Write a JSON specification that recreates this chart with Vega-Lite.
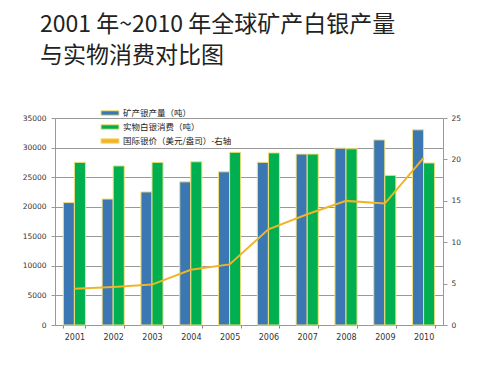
{
  "$schema": "https://vega.github.io/schema/vega-lite/v6.json",
  "width": 388,
  "height": 207,
  "autosize": {"type": "none"},
  "padding": {"left": 55, "top": 118, "right": 57, "bottom": 49},
  "background": "white",
  "title": {
    "text": ["2001 年~2010 年全球矿产白银产量", "与实物消费对比图"],
    "anchor": "start",
    "frame": "group",
    "dx": -15,
    "offset": 40,
    "font": "Noto Sans CJK SC",
    "fontSize": 23,
    "fontWeight": "normal",
    "color": "#222222",
    "lineHeight": 31
  },
  "datasets": {
    "bars": [
      {"year": "2001", "series": "矿产银产量（吨）", "value": 20700},
      {"year": "2002", "series": "矿产银产量（吨）", "value": 21300},
      {"year": "2003", "series": "矿产银产量（吨）", "value": 22500},
      {"year": "2004", "series": "矿产银产量（吨）", "value": 24200},
      {"year": "2005", "series": "矿产银产量（吨）", "value": 25900},
      {"year": "2006", "series": "矿产银产量（吨）", "value": 27500},
      {"year": "2007", "series": "矿产银产量（吨）", "value": 28900},
      {"year": "2008", "series": "矿产银产量（吨）", "value": 29900},
      {"year": "2009", "series": "矿产银产量（吨）", "value": 31300},
      {"year": "2010", "series": "矿产银产量（吨）", "value": 33000},
      {"year": "2001", "series": "实物白银消费（吨）", "value": 27500},
      {"year": "2002", "series": "实物白银消费（吨）", "value": 26900},
      {"year": "2003", "series": "实物白银消费（吨）", "value": 27500},
      {"year": "2004", "series": "实物白银消费（吨）", "value": 27600},
      {"year": "2005", "series": "实物白银消费（吨）", "value": 29200},
      {"year": "2006", "series": "实物白银消费（吨）", "value": 29100},
      {"year": "2007", "series": "实物白银消费（吨）", "value": 28900},
      {"year": "2008", "series": "实物白银消费（吨）", "value": 29800},
      {"year": "2009", "series": "实物白银消费（吨）", "value": 25300},
      {"year": "2010", "series": "实物白银消费（吨）", "value": 27400}
    ],
    "price": [
      {"year": "2001", "price": 4.37},
      {"year": "2002", "price": 4.6},
      {"year": "2003", "price": 4.88},
      {"year": "2004", "price": 6.67},
      {"year": "2005", "price": 7.32},
      {"year": "2006", "price": 11.55},
      {"year": "2007", "price": 13.38},
      {"year": "2008", "price": 14.99},
      {"year": "2009", "price": 14.67},
      {"year": "2010", "price": 20.19}
    ]
  },
  "layer": [
    {
      "data": {"name": "bars"},
      "mark": {"type": "bar", "stroke": "#f3df7a", "strokeWidth": 1},
      "encoding": {
        "x": {
          "field": "year",
          "type": "nominal",
          "scale": {"paddingInner": 0.43, "paddingOuter": 0.215},
          "axis": {
            "title": null,
            "labelAngle": 0,
            "labelFont": "DejaVu Sans",
            "labelFontSize": 8,
            "labelColor": "#333333",
            "labelPadding": 5,
            "tickBand": "extent",
            "tickSize": 3,
            "tickColor": "#888888",
            "domainColor": "#999999",
            "grid": false
          }
        },
        "xOffset": {
          "field": "series",
          "type": "nominal",
          "sort": ["矿产银产量（吨）", "实物白银消费（吨）"],
          "scale": {"paddingInner": 0, "paddingOuter": 0}
        },
        "y": {
          "field": "value",
          "type": "quantitative",
          "scale": {"domain": [0, 35000], "nice": false},
          "axis": {
            "title": null,
            "values": [0, 5000, 10000, 15000, 20000, 25000, 30000, 35000],
            "format": "d",
            "labelFont": "DejaVu Sans",
            "labelFontSize": 7.5,
            "labelColor": "#333333",
            "labelPadding": 5,
            "tickSize": 4,
            "tickColor": "#999999",
            "domainColor": "#999999",
            "grid": true,
            "gridColor": "#999999",
            "gridWidth": 1
          }
        },
        "color": {
          "field": "series",
          "type": "nominal",
          "scale": {
            "domain": ["矿产银产量（吨）", "实物白银消费（吨）", "国际银价（美元/盎司）-右轴"],
            "range": ["#3b78b3", "#00b050", "#f0b428"]
          },
          "legend": {
            "title": null,
            "orient": "none",
            "legendX": 50,
            "legendY": -10,
            "direction": "vertical",
            "padding": 0,
            "symbolType": "M-2,-0.5L2,-0.5L2,0.5L-2,0.5Z",
            "symbolSize": 81,
            "symbolStrokeColor": "#f3df7a",
            "symbolStrokeWidth": 1,
            "labelFont": "Noto Sans CJK SC",
            "labelFontSize": 8.5,
            "labelColor": "#222222",
            "labelOffset": 8,
            "rowPadding": 4
          }
        }
      }
    },
    {
      "data": {"name": "price"},
      "mark": {"type": "line", "color": "#f0b428", "strokeWidth": 2},
      "encoding": {
        "x": {"field": "year", "type": "nominal"},
        "y": {
          "field": "price",
          "type": "quantitative",
          "scale": {"domain": [0, 25], "nice": false},
          "axis": {
            "orient": "right",
            "title": null,
            "values": [0, 5, 10, 15, 20, 25],
            "labelFont": "DejaVu Sans",
            "labelFontSize": 7.5,
            "labelColor": "#333333",
            "labelPadding": 4,
            "tickSize": 4,
            "tickColor": "#999999",
            "domainColor": "#999999",
            "grid": false
          }
        }
      }
    }
  ],
  "resolve": {"scale": {"y": "independent"}},
  "config": {"view": {"stroke": null}}
}
